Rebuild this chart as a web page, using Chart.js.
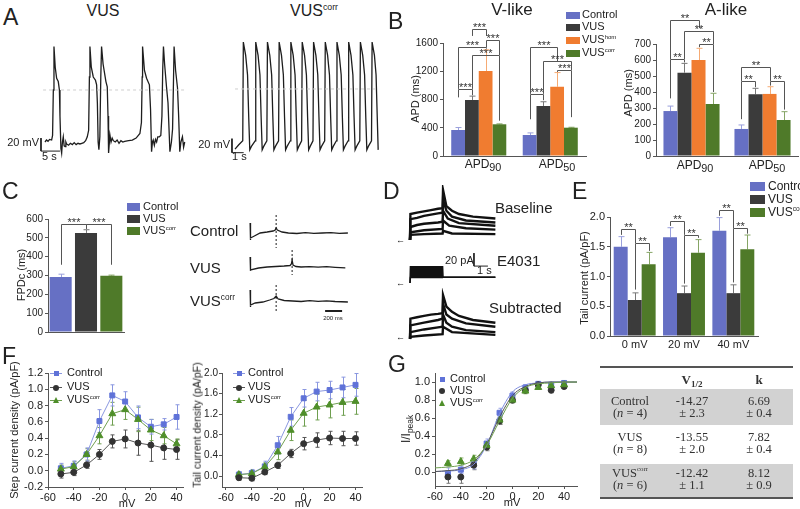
<!DOCTYPE html>
<html lang="en">
<head>
<meta charset="UTF-8">
<title>VUS figure - Chart.js</title>
<script src="https://cdn.jsdelivr.net/npm/chart.js"></script>
<style>
  body { margin: 0; background: #fff; }
  #fig { position: relative; width: 800px; height: 509px; overflow: hidden; font-family: "Liberation Sans", Arial, sans-serif; color: #222; }
  #fig canvas { position: absolute; }
  .t { position: absolute; white-space: nowrap; line-height: 1.2; }
  .sup { font-size: 0.55em; position: relative; top: -0.75em; }
  .sub { font-size: 0.7em; position: relative; top: 0.35em; }
  .dsub { font-size: 0.9em; position: relative; top: 0.3em; }
</style>
</head>
<body>
<div id="fig"></div>
<script>
// ---------- data ----------
// A: membrane potential traces [s, mV]
const vusTrace = [[0,-80],[0.4,-77],[0.8,-79],[1.2,-76],[1.75,-77],[2.0,-70],[2.2,0],[2.37,67],[2.7,35],[3.07,18],[3.5,13],[3.8,0],[3.95,-40],[4.2,-90],[4.39,-97],[4.6,-80],[4.82,-72],[5.05,-86],[5.3,-87],[5.5,-80],[5.7,-83],[6.2,-85],[6.7,-82],[7.2,-84],[7.7,-81],[8.2,-84],[8.7,-82],[9.2,-83],[9.7,-82],[10.2,-81],[10.7,-78],[11.14,-72],[11.5,-62],[11.7,20],[11.84,67],[12.2,35],[12.72,20],[13.3,15],[13.6,8],[13.8,-20],[14.0,-80],[14.2,-92],[14.45,-72],[14.7,20],[14.9,67],[15.3,40],[16.05,13],[16.4,5],[16.6,-40],[16.75,-97],[17.1,-69],[17.4,-80],[17.7,-74],[18.0,-78],[18.5,-80],[19,-77],[19.5,-82],[20,-78],[20.5,-80],[21,-79],[22,-78],[23,-77],[24,-74],[25.0,-67],[25.4,-50],[25.6,20],[25.7,67],[26.2,30],[26.75,18],[27.5,8],[27.8,-30],[28.07,-95],[28.3,-80],[28.5,-77],[28.8,-85],[29.1,-76],[29.4,-80],[29.7,-72],[30.1,-72],[30.5,-70],[30.8,-40],[31.0,30],[31.2,67],[31.5,40],[32.0,5],[32.4,-20],[32.9,-95],[33.3,-80],[33.6,-60],[33.8,0],[34.0,67],[34.4,30],[34.9,3],[35.2,-40],[35.5,-95],[35.8,-80],[36.2,-72],[36.5,-88],[36.8,-80]];
const corrTrace = [[0,-86],[0.3,-80],[0.66,-74],[0.71,67],[0.91,48],[1.07,20],[1.17,-40],[1.26,-87],[1.4,-82],
  [1.72,-74],[1.77,67],[1.97,48],[2.13,20],[2.23,-40],[2.32,-87],[2.45,-82],
  [2.72,-74],[2.77,67],[2.97,48],[3.13,20],[3.23,-40],[3.32,-87],[3.45,-82],
  [3.72,-74],[3.77,67],[3.97,48],[4.13,20],[4.23,-40],[4.32,-87],[4.45,-82],
  [4.72,-74],[4.77,67],[4.97,48],[5.13,20],[5.23,-40],[5.32,-87],[5.45,-82],
  [5.69,-74],[5.74,67],[5.94,48],[6.1,20],[6.2,-40],[6.29,-87],[6.42,-82],
  [6.66,-74],[6.71,67],[6.91,48],[7.07,20],[7.17,-40],[7.26,-87],[7.39,-82],
  [7.66,-74],[7.71,67],[7.91,48],[8.07,20],[8.17,-40],[8.26,-87],[8.39,-82],
  [8.66,-74],[8.71,67],[8.91,48],[9.07,20],[9.17,-40],[9.26,-87],[9.39,-82],
  [9.66,-74],[9.71,67],[9.91,48],[10.07,20],[10.17,-40],[10.26,-87],[10.39,-82],
  [10.66,-74],[10.71,67],[10.91,48],[11.07,20],[11.17,-40],[11.26,-87],[11.39,-82],
  [11.66,-74],[11.71,67],[11.91,48],[12.05,20],[12.15,-40],[12.23,-87]];

// B: APD (ms)
const apdGroups = ['APD90', 'APD50'];
const vControl = [368, 297], vVUS = [793, 708], vHom = [1204, 981], vCorr = [449, 401];
const vControlErr = [35, 30], vVUSErr = [55, 60], vHomErr = [300, 200], vCorrErr = [6, 6];
const aControl = [281, 169], aVUS = [521, 386], aHom = [600, 388], aCorr = [325, 225];
const aControlErr = [31, 25], aVUSErr = [58, 37], aHomErr = [73, 45], aCorrErr = [67, 52];
const vTicks = [0, 200, 400, 600, 800, 1000, 1200, 1400, 1600];
const aTicks = [0, 100, 200, 300, 400, 500, 600, 700];

// C: FPDc (ms)
const fpdGroups = ['Control', 'VUS', 'VUScorr'];
const fpdValues = [292, 526, 299];
const fpdErr = [15, 17, 3];
const fpdTicks = [0, 100, 200, 300, 400, 500, 600];
const fpControl = [[0,10],[1,-7],[8,-5],[50,-3],[118,0],[200,1],[270,2],[295,3],[306,5],[320,3],[376,1],[450,0],[550,-0.5],[650,0.3],[750,-0.3],[850,0],[950,0.3],[1050,-0.3],[1150,0]];
const fpVUS = [[0,10],[1,-4],[8,-3],[100,-1],[200,0],[300,0.5],[400,1],[470,1.5],[485,3],[494,7],[505,2],[540,0.5],[600,0],[700,0.4],[800,-0.2],[900,0.3],[1000,-0.3],[1120,-0.8]];
const fpCorr = [[0,11],[1,-6],[8,-4],[60,-2],[150,-1],[230,1],[280,2.5],[306,5],[330,2],[400,0.5],[500,0],[600,-0.5],[700,0.3],[800,-0.3],[900,0.2],[1000,-0.5],[1150,-1]];

// D: current traces [s, pA]
const baseTraces = [
  [[0,0],[0.03,40],[0.5,42],[1,44],[1.5,46],[2,48],[2.33,49],[2.36,77],[2.6,52],[3,45],[3.5,40],[4.5,36],[6.1,33]],
  [[0,0],[0.03,32],[0.5,34],[1,37],[1.5,39],[2,41],[2.33,42],[2.36,62],[2.6,45],[3,36],[4,30],[6.1,27]],
  [[0,0],[0.03,20],[0.5,23],[1,25],[2,27],[2.33,28],[2.36,45],[2.7,33],[3.5,26],[6.1,22]],
  [[0,0],[0.03,12],[1,15],[2.33,17],[2.36,30],[2.8,22],[4,18],[6.1,16]],
  [[0,0],[0.03,8],[1,9],[2.33,10],[2.36,14],[3,10],[6.1,9]]
];
const e4031Top = [[0,0],[0.03,25],[1,25],[2,25],[2.33,25],[2.36,9],[6.1,9]];
const e4031Bottom = [[0,0],[0.03,8.5],[1,8.5],[2,8.5],[2.33,8.5],[2.36,9],[6.1,9]];
const subTraces = [
  [[0,0],[0.03,30],[0.5,32],[1,34],[1.5,36],[2,37],[2.33,38],[2.36,65],[2.6,48],[3,40],[3.5,34],[4.5,28],[6.1,24]],
  [[0,0],[0.03,20],[1,24],[2,28],[2.33,30],[2.36,52],[2.6,36],[3,30],[4,23],[6.1,18]],
  [[0,0],[0.03,10],[1,14],[2,17],[2.33,18],[2.36,36],[2.6,24],[3,18],[4,13],[6.1,10]],
  [[0,0],[0.03,3],[1,5],[2.33,7],[2.36,18],[3,10],[6.1,6]]
];

// E: tail current (pA/pF)
const tailGroups = ['0 mV', '20 mV', '40 mV'];
const tControl = [1.50, 1.66, 1.77], tVUS = [0.605, 0.72, 0.72], tCorr = [1.205, 1.40, 1.457];
const tControlErr = [0.17, 0.16, 0.22], tVUSErr = [0.12, 0.12, 0.14], tCorrErr = [0.2, 0.22, 0.24];
const tTicks = [0, 0.5, 1.0, 1.5, 2.0];

// F: current density vs voltage
const mvF = [-50, -40, -30, -20, -10, 0, 10, 20, 30, 40];
const stepControl = [0.03, 0.06, 0.20, 0.61, 0.925, 0.85, 0.655, 0.54, 0.57, 0.66];
const stepVUS = [-0.04, -0.02, 0.07, 0.20, 0.36, 0.39, 0.34, 0.315, 0.28, 0.26];
const stepCorr = [0.02, 0.05, 0.20, 0.43, 0.70, 0.75, 0.63, 0.50, 0.43, 0.33];
const stepControlErr = [0.06, 0.06, 0.08, 0.14, 0.13, 0.12, 0.14, 0.09, 0.07, 0.15];
const stepVUSErr = [0.05, 0.04, 0.04, 0.06, 0.08, 0.11, 0.15, 0.2, 0.14, 0.12];
const stepCorrErr = [0.05, 0.06, 0.07, 0.10, 0.14, 0.12, 0.15, 0.13, 0.10, 0.06];
const tailControl = [0.03, 0.06, 0.19, 0.60, 1.15, 1.51, 1.64, 1.67, 1.72, 1.77];
const tailVUS = [-0.03, -0.04, 0.08, 0.21, 0.44, 0.63, 0.70, 0.74, 0.73, 0.73];
const tailCorr = [0.03, 0.05, 0.18, 0.47, 0.89, 1.22, 1.34, 1.38, 1.43, 1.45];
const tailControlErr = [0.06, 0.07, 0.1, 0.17, 0.18, 0.17, 0.18, 0.17, 0.2, 0.22];
const tailVUSErr = [0.05, 0.05, 0.05, 0.06, 0.08, 0.12, 0.14, 0.13, 0.14, 0.13];
const tailCorrErr = [0.05, 0.06, 0.08, 0.15, 0.2, 0.25, 0.25, 0.25, 0.25, 0.25];
const mvTicks = [-60, -40, -20, 0, 20, 40];
const stepTicks = [-0.2, 0, 0.2, 0.4, 0.6, 0.8, 1.0, 1.2];
const tailDensTicks = [0, 0.4, 0.8, 1.2, 1.6, 2.0];

// G: activation
const actControl = [-0.01, 0.03, 0.09, 0.32, 0.66, 0.85, 0.94, 0.98, 0.97, 0.99];
const actVUS = [-0.05, -0.05, 0.08, 0.28, 0.57, 0.80, 0.91, 0.97, 0.91, 0.95];
const actCorr = [0.10, 0.12, 0.15, 0.30, 0.58, 0.80, 0.90, 0.94, 0.96, 0.97];
const actControlErr = [0.06, 0.04, 0.05, 0.05, 0.05, 0.04, 0.03, 0.02, 0.02, 0.02];
const actVUSErr = [0.07, 0.07, 0.05, 0.04, 0.04, 0.03, 0.03, 0.02, 0.03, 0.02];
const actCorrErr = [0.03, 0.04, 0.04, 0.04, 0.04, 0.03, 0.03, 0.02, 0.02, 0.02];
const fitV = [-60, -50, -40, -30, -20, -10, 0, 10, 20, 30, 40, 50];
const fitControl = [0.01, 0.015, 0.03, 0.09, 0.30, 0.65, 0.89, 0.97, 0.99, 1.0, 1.0, 1.0];
const fitVUS = [0.01, 0.02, 0.04, 0.11, 0.31, 0.61, 0.85, 0.95, 0.99, 1.0, 1.0, 1.0];
const fitCorr = [0.05, 0.06, 0.08, 0.14, 0.30, 0.57, 0.82, 0.94, 0.98, 0.99, 1.0, 1.0];
const actTicks = [0, 0.2, 0.4, 0.6, 0.8, 1.0];

// table
const tableRows = [
  ['Control', '(<i>n</i> = 4)', '-14.27', '\u00b1 2.3', '6.69', '\u00b1 0.4'],
  ['VUS', '(<i>n</i> = 8)', '-13.55', '\u00b1 2.0', '7.82', '\u00b1 0.4'],
  ['VUS<span class="sup">corr</span>', '(<i>n</i> = 6)', '-12.42', '\u00b1 1.1', '8.12', '\u00b1 0.9']
];

// ---------- style ----------
const FONT = '"Liberation Sans", Arial, sans-serif';
Chart.defaults.font.family = FONT;
Chart.defaults.color = '#222';
const AX = '#555';
const C_CTRL = '#6670c4', C_VUS = '#3b3b3b', C_HOM = '#f07c30', C_CORR = '#4f7a29';
const E_CTRL = '#9aa0dc', E_VUS = '#777', E_HOM = '#f6ab74', E_CORR = '#86a566';
const L_CTRL = '#5f72d8', L_VUS = '#333', L_CORR = '#4f8f2a';

const fig = document.getElementById('fig');

// error bars drawn from dataset.errors through the y scale
Chart.register({
  id: 'errorBars',
  beforeDatasetsDraw(chart) {
    const ctx = chart.ctx, ys = chart.scales.y;
    chart.data.datasets.forEach((ds, i) => {
      if (!ds.errors) return;
      chart.getDatasetMeta(i).data.forEach((el, j) => {
        const raw = ds.data[j], v = typeof raw === 'number' ? raw : raw.y, e = ds.errors[j];
        const col = Array.isArray(ds.errColor) ? ds.errColor[j] : ds.errColor;
        const top = ys.getPixelForValue(v + e);
        const bot = ys.getPixelForValue(ds.errUp ? v : v - e);
        const x = Math.round(el.x) + 0.5, cap = ds.cap || 3;
        ctx.save();
        ctx.strokeStyle = col; ctx.lineWidth = 1;
        ctx.beginPath();
        ctx.moveTo(x, bot); ctx.lineTo(x, top);
        ctx.moveTo(x - cap, top); ctx.lineTo(x + cap, top);
        if (!ds.errUp) { ctx.moveTo(x - cap, bot); ctx.lineTo(x + cap, bot); }
        ctx.stroke();
        ctx.restore();
      });
    });
  }
});

// significance brackets between bars
Chart.register({
  id: 'brackets',
  afterDatasetsDraw(chart, args, opts) {
    if (!opts || !opts.items) return;
    const ctx = chart.ctx, ys = chart.scales.y;
    ctx.save();
    ctx.strokeStyle = '#555'; ctx.fillStyle = '#333'; ctx.lineWidth = 1;
    ctx.font = (opts.size || 11) + 'px ' + FONT;
    ctx.textAlign = 'center'; ctx.textBaseline = 'alphabetic';
    opts.items.forEach(b => {
      const xa = Math.round(chart.getDatasetMeta(b.a[0]).data[b.a[1]].x) + 0.5;
      const xb = Math.round(chart.getDatasetMeta(b.b[0]).data[b.b[1]].x) + 0.5;
      const yt = Math.round(ys.getPixelForValue(b.y)) + 0.5;
      ctx.beginPath();
      ctx.moveTo(xa, ys.getPixelForValue(b.ea)); ctx.lineTo(xa, yt);
      ctx.lineTo(xb, yt); ctx.lineTo(xb, ys.getPixelForValue(b.eb));
      ctx.stroke();
      ctx.fillText(b.t, (xa + xb) / 2, yt + 1.5);
    });
    ctx.restore();
  }
});

// ---------- helpers ----------
function canvas(left, top, w, h) {
  const c = document.createElement('canvas');
  c.width = w; c.height = h;
  c.style.left = left + 'px'; c.style.top = top + 'px';
  c.style.width = w + 'px'; c.style.height = h + 'px';
  fig.appendChild(c);
  return c;
}
function txt(html, x, cy, size, align, extra) {
  const d = document.createElement('div');
  d.className = 't';
  d.innerHTML = html;
  d.style.fontSize = size + 'px';
  d.style.top = (cy - size * 0.6) + 'px';
  if (align === 'center') { d.style.left = x + 'px'; d.style.transform = 'translateX(-50%)'; }
  else if (align === 'right') { d.style.right = (800 - x) + 'px'; }
  else { d.style.left = x + 'px'; }
  if (extra) d.style.cssText += extra;
  fig.appendChild(d);
  return d;
}
function vtxt(html, cx, cy, size) {
  const d = document.createElement('div');
  d.className = 't';
  d.innerHTML = html;
  d.style.fontSize = size + 'px';
  d.style.left = cx + 'px'; d.style.top = cy + 'px';
  d.style.transform = 'translate(-50%,-50%) rotate(-90deg)';
  fig.appendChild(d);
}
function rect(x, y, w, h, color) {
  const d = document.createElement('div');
  d.style.cssText = `position:absolute;left:${x}px;top:${y}px;width:${w}px;height:${h}px;background:${color}`;
  fig.appendChild(d);
}
function marker(cx, cy, shape, color) {
  const d = document.createElement('div');
  if (shape === 'triangle') {
    d.style.cssText = `position:absolute;left:${cx - 3.5}px;top:${cy - 3.5}px;width:0;height:0;border-left:3.5px solid transparent;border-right:3.5px solid transparent;border-bottom:6px solid ${color}`;
  } else {
    const s = shape === 'circle' ? 6 : 5;
    d.style.cssText = `position:absolute;left:${cx - s / 2}px;top:${cy - s / 2}px;width:${s}px;height:${s}px;background:${color};border-radius:${shape === 'circle' ? '50%' : '0'}`;
  }
  fig.appendChild(d);
}
const pts = arr => arr.map(p => ({ x: p[0], y: p[1] }));
const xy = (xs, ys) => xs.map((x, i) => ({ x, y: ys[i] }));

function baseOpts(pad, scales, plugins) {
  return {
    animation: false, responsive: false, devicePixelRatio: 1, events: [],
    layout: { padding: pad }, scales,
    plugins: Object.assign({ legend: { display: false }, tooltip: { enabled: false } }, plugins || {})
  };
}
function yLin(min, max, ticks, digits, size, width, pad) {
  return {
    type: 'linear', min, max,
    afterFit: s => { s.width = width; },
    afterBuildTicks: s => { s.ticks = ticks.map(v => ({ value: v })); },
    border: { display: true, color: AX, width: 1 },
    grid: { drawOnChartArea: false, drawTicks: true, tickLength: 3, color: AX },
    ticks: { font: { size }, padding: pad === undefined ? 2 : pad, color: '#222', callback: v => v.toFixed(digits) }
  };
}
function xLin(min, max, ticks, size, height) {
  return {
    type: 'linear', min, max,
    afterFit: s => { s.height = height; },
    afterBuildTicks: s => { s.ticks = ticks.map(v => ({ value: v })); },
    border: { display: true, color: AX, width: 1 },
    grid: { drawOnChartArea: false, drawTicks: true, tickLength: 3, color: AX },
    ticks: { font: { size }, padding: 1, color: '#222', maxRotation: 0 }
  };
}
function xCat(size, height, pad, show) {
  return {
    type: 'category',
    afterFit: s => { s.height = height; },
    border: { display: true, color: AX, width: 1 },
    grid: { display: false, drawTicks: false, tickLength: 0 },
    ticks: { display: show !== false, font: { size }, padding: pad, color: '#222', maxRotation: 0 }
  };
}
function barDs(values, errs, color, errColor, cp) {
  return { data: values, errors: errs, errUp: true, errColor, cap: 3, backgroundColor: color,
    borderWidth: 0, barPercentage: 1, categoryPercentage: cp };
}
function traceChart(left, top, w, h, xr, yr, sets) {
  return new Chart(canvas(left, top, w, h), {
    type: 'line',
    data: {
      datasets: sets.map(s => ({
        data: pts(s.pts), pointRadius: 0, borderColor: s.color || '#1e1e1e', borderWidth: s.w || 1.3,
        borderDash: s.dash || [], fill: s.fill || false, backgroundColor: s.bg || 'transparent', tension: 0
      }))
    },
    options: baseOpts(0, {
      x: { type: 'linear', display: false, min: xr[0], max: xr[1] },
      y: { type: 'linear', display: false, min: yr[0], max: yr[1] }
    })
  });
}
function lineDs(xs, ys, errs, color, lineColor, style, radius, showLine) {
  return { data: xy(xs, ys), errors: errs, errColor: lineColor, cap: 2, borderColor: lineColor,
    backgroundColor: color, pointBackgroundColor: color, pointBorderColor: color, pointStyle: style,
    pointRadius: radius, borderWidth: 1, showLine: showLine, tension: 0 };
}
// category label under a bar group, with the digits as subscript
function apdLabel(label, x, cy) {
  txt(label.slice(0, 3) + '<span class="dsub">' + label.slice(3) + '</span>', x, cy, 12, 'center');
}

// ---------- A ----------
traceChart(37, 35, 150, 130, [-2.1, 37.4], [-115.4, 84.6], [
  { pts: [[-0.5, 0], [37.4, 0]], color: '#cfcfcf', w: 1, dash: [3, 3] },
  { pts: vusTrace },
  { pts: [[-1.05, -74], [-1.05, -94], [3.95, -94]], w: 1 }
]);
traceChart(228, 35, 151, 130, [-0.6, 12.3], [-108.6, 77.1], [
  { pts: [[0, 0], [12.2, 0]], color: '#cfcfcf', w: 1, dash: [3, 3] },
  { pts: corrTrace },
  { pts: [[-0.26, -71], [-0.26, -91], [0.74, -91]], w: 1 }
]);

// ---------- B ----------
new Chart(canvas(400, 0, 190, 175), {
  type: 'bar',
  data: { labels: apdGroups, datasets: [
    barDs(vControl, vControlErr, C_CTRL, E_CTRL, 0.77),
    barDs(vVUS, vVUSErr, C_VUS, E_VUS, 0.77),
    barDs(vHom, vHomErr, C_HOM, E_HOM, 0.77),
    barDs(vCorr, vCorrErr, C_CORR, E_CORR, 0.77)
  ] },
  options: baseOpts({ top: 43, right: 4, left: 0, bottom: 0 }, {
    x: xCat(12, 19, 2, false),
    y: yLin(0, 1600, vTicks, 0, 10, 43)
  }, { brackets: { items: [
    { a: [0, 0], b: [1, 0], y: 950, ea: 830, eb: 860, t: '***' },
    { a: [0, 0], b: [2, 0], y: 1540, ea: 950, eb: 1520, t: '***' },
    { a: [1, 0], b: [2, 0], y: 1800, ea: 1700, eb: 1700, t: '***' },
    { a: [1, 0], b: [3, 0], y: 1430, ea: 950, eb: 500, t: '***' },
    { a: [2, 0], b: [3, 0], y: 1640, ea: 1540, eb: 1430, t: '***' },
    { a: [0, 1], b: [1, 1], y: 880, ea: 520, eb: 790, t: '***' },
    { a: [0, 1], b: [2, 1], y: 1543, ea: 880, eb: 1345, t: '***' },
    { a: [1, 1], b: [3, 1], y: 1345, ea: 880, eb: 1218, t: '***' },
    { a: [2, 1], b: [3, 1], y: 1218, ea: 1190, eb: 550, t: '***' }
  ] } })
});
new Chart(canvas(610, 0, 190, 175), {
  type: 'bar',
  data: { labels: apdGroups, datasets: [
    barDs(aControl, aControlErr, C_CTRL, E_CTRL, 0.79),
    barDs(aVUS, aVUSErr, C_VUS, E_VUS, 0.79),
    barDs(aHom, aHomErr, C_HOM, E_HOM, 0.79),
    barDs(aCorr, aCorrErr, C_CORR, E_CORR, 0.79)
  ] },
  options: baseOpts({ top: 44, right: 2, left: 0, bottom: 0 }, {
    x: xCat(12, 19, 2, false),
    y: yLin(0, 700, aTicks, 0, 10, 46)
  }, { brackets: { items: [
    { a: [0, 0], b: [1, 0], y: 606, ea: 360, eb: 585, t: '**' },
    { a: [0, 0], b: [2, 0], y: 850, ea: 606, eb: 800, t: '**' },
    { a: [1, 0], b: [3, 0], y: 781, ea: 606, eb: 700, t: '**' },
    { a: [2, 0], b: [3, 0], y: 700, ea: 680, eb: 400, t: '**' },
    { a: [0, 1], b: [2, 1], y: 556, ea: 469, eb: 469, t: '**' },
    { a: [0, 1], b: [1, 1], y: 469, ea: 230, eb: 430, t: '**' },
    { a: [2, 1], b: [3, 1], y: 469, ea: 440, eb: 290, t: '**' }
  ] } })
});
apdLabel(apdGroups[0], 483, 164);
apdLabel(apdGroups[1], 557, 164);
apdLabel(apdGroups[0], 695, 165);
apdLabel(apdGroups[1], 767, 165);

// ---------- C ----------
new Chart(canvas(0, 200, 130, 140), {
  type: 'bar',
  data: { labels: fpdGroups, datasets: [{
    data: fpdValues, errors: fpdErr, errUp: true, cap: 3,
    errColor: [E_CTRL, E_VUS, E_CORR], backgroundColor: [C_CTRL, C_VUS, C_CORR],
    borderWidth: 0, barPercentage: 1, categoryPercentage: 0.87
  }] },
  options: baseOpts({ top: 19, right: 6, left: 0, bottom: 0 }, {
    x: xCat(10, 8, 0, false),
    y: yLin(0, 600, fpdTicks, 0, 10, 48)
  }, { brackets: { items: [
    { a: [0, 0], b: [0, 1], y: 575, ea: 357, eb: 548, t: '***' },
    { a: [0, 1], b: [0, 2], y: 575, ea: 548, eb: 357, t: '***' }
  ] } })
});
traceChart(248, 212, 102, 40, [-25, 1175], [-19, 21], [
  { pts: [[306, 18], [306, -15]], w: 1, dash: [2, 2] },
  { pts: fpControl }
]);
traceChart(248, 246, 102, 36, [-25, 1175], [-15, 21], [
  { pts: [[494, 17], [494, -8]], w: 1, dash: [2, 2] },
  { pts: fpVUS }
]);
traceChart(248, 280, 102, 36, [-25, 1175], [-15, 21], [
  { pts: [[306, 16], [306, -11]], w: 1, dash: [2, 2] },
  { pts: fpCorr },
  { pts: [[882, -10], [1082, -10]], w: 2 }
]);

// ---------- D ----------
traceChart(405, 185, 95, 60, [-0.357, 6.43], [-7.7, 84.6],
  baseTraces.map(p => ({ pts: p, color: '#111', w: 2.4 })));
traceChart(405, 252, 95, 35, [-0.357, 6.43], [-6.2, 47.7], [
  { pts: e4031Top, color: '#111', w: 1.5, fill: '+1', bg: '#111' },
  { pts: e4031Bottom, color: '#111', w: 1.5 },
  { pts: [[4.57, 46], [4.57, 26], [5.57, 26]], color: '#222', w: 1 }
]);
traceChart(405, 288, 95, 54, [-0.357, 6.43], [-4.6, 75.4],
  subTraces.map(p => ({ pts: p, color: '#111', w: 2.4 })));

// ---------- E ----------
new Chart(canvas(560, 190, 200, 160), {
  type: 'bar',
  data: { labels: tailGroups, datasets: [
    barDs(tControl, tControlErr, C_CTRL, E_CTRL, 0.85),
    barDs(tVUS, tVUSErr, C_VUS, E_VUS, 0.85),
    barDs(tCorr, tCorrErr, C_CORR, E_CORR, 0.85)
  ] },
  options: baseOpts({ top: 27, right: 2, left: 0, bottom: 0 }, {
    x: xCat(11, 14, 2),
    y: yLin(0, 2, tTicks, 1, 11, 50)
  }, { brackets: { items: [
    { a: [0, 0], b: [1, 0], y: 1.79, ea: 1.70, eb: 1.56, t: '**' },
    { a: [1, 0], b: [2, 0], y: 1.56, ea: 0.78, eb: 1.43, t: '**' },
    { a: [0, 1], b: [1, 1], y: 1.94, ea: 1.85, eb: 1.70, t: '**' },
    { a: [1, 1], b: [2, 1], y: 1.70, ea: 0.88, eb: 1.65, t: '**' },
    { a: [0, 2], b: [1, 2], y: 2.11, ea: 2.02, eb: 1.81, t: '**' },
    { a: [1, 2], b: [2, 2], y: 1.81, ea: 0.90, eb: 1.72, t: '**' }
  ] } })
});

// ---------- F ----------
new Chart(canvas(0, 360, 190, 149), {
  type: 'line',
  data: { datasets: [
    lineDs(mvF, stepVUS, stepVUSErr, L_VUS, '#555', 'circle', 3, true),
    lineDs(mvF, stepCorr, stepCorrErr, L_CORR, '#6f9f50', 'triangle', 4, true),
    lineDs(mvF, stepControl, stepControlErr, L_CTRL, '#8a97e0', 'rect', 3.5, true)
  ] },
  options: baseOpts({ top: 13, right: 7, left: 0, bottom: 0 }, {
    x: xLin(-60, 45, mvTicks, 11, 22),
    y: yLin(-0.2, 1.2, stepTicks, 1, 11, 48)
  })
});
new Chart(canvas(180, 360, 190, 149), {
  type: 'line',
  data: { datasets: [
    lineDs(mvF, tailVUS, tailVUSErr, L_VUS, '#555', 'circle', 3, true),
    lineDs(mvF, tailCorr, tailCorrErr, L_CORR, '#6f9f50', 'triangle', 4, true),
    lineDs(mvF, tailControl, tailControlErr, L_CTRL, '#8a97e0', 'rect', 3.5, true)
  ] },
  options: baseOpts({ top: 13, right: 8, left: 0, bottom: 0 }, {
    x: xLin(-63, 45, mvTicks, 11, 22),
    y: yLin(-0.21, 2.0, tailDensTicks, 1, 10, 42, 1)
  })
});

// ---------- G ----------
const fitDs = (ys, color) => ({ data: xy(fitV, ys), borderColor: color, borderWidth: 1, pointRadius: 0,
  cubicInterpolationMode: 'monotone', fill: false });
new Chart(canvas(400, 360, 185, 149), {
  type: 'line',
  data: { datasets: [
    fitDs(fitCorr, '#6f9f50'),
    fitDs(fitVUS, '#555'),
    fitDs(fitControl, '#7d8ce0'),
    lineDs(mvF, actCorr, actCorrErr, L_CORR, '#8db070', 'triangle', 4, false),
    lineDs(mvF, actVUS, actVUSErr, L_VUS, '#777', 'circle', 3, false),
    lineDs(mvF, actControl, actControlErr, L_CTRL, '#9aa5e6', 'rect', 3.5, false)
  ] },
  options: baseOpts({ top: 13, right: 8, left: 0, bottom: 0 }, {
    x: xLin(-60, 50, mvTicks, 11, 23),
    y: yLin(-0.15, 1.1, actTicks, 1, 11, 35)
  })
});

// ---------- text ----------
const S = '<span class="sup">', E = '</span>';
[['A', 3, 18], ['B', 388, 22], ['C', 2, 192], ['D', 383, 192], ['E', 572, 192], ['F', 2, 357], ['G', 388, 365]]
  .forEach(l => txt(l[0], l[1], l[2], 23));

// A
txt('VUS', 103, 11, 16, 'center');
txt('VUS' + S + 'corr' + E, 314, 11, 16, 'center');
txt('20 mV', 39, 143, 11, 'right');
txt('5 s', 42, 157, 11);
txt('20 mV', 230, 145, 11, 'right');
txt('1 s', 232, 157, 11);

// B
txt('V-like', 512, 10, 17, 'center');
txt('A-like', 726, 10, 17, 'center');
vtxt('APD (ms)', 416, 99, 11);
vtxt('APD (ms)', 629, 93, 11);
[[C_CTRL, 'Control', 15], [C_VUS, 'VUS', 27], [C_HOM, 'VUS' + S + 'hom' + E, 40], [C_CORR, 'VUS' + S + 'corr' + E, 53]]
  .forEach(r => { rect(566, r[2] - 3.5, 14, 7, r[0]); txt(r[1], 582, r[2], 11); });

// C
vtxt('FPDc (ms)', 22, 275, 11);
[[C_CTRL, 'Control', 207], [C_VUS, 'VUS', 219], [C_CORR, 'VUS' + S + 'corr' + E, 231]]
  .forEach(r => { rect(127, r[2] - 4, 13, 8, r[0]); txt(r[1], 143, r[2], 11); });
txt('Control', 190, 231, 15);
txt('VUS', 190, 268, 15);
txt('VUS' + S + 'corr' + E, 190, 301, 15);
txt('200 ms', 333, 319, 6, 'center');

// D
txt('Baseline', 495, 208, 15);
txt('E4031', 497, 261, 15);
txt('Subtracted', 489, 308, 15);
txt('20 pA', 445, 261, 11);
txt('1 s', 477, 271, 11);
[240, 283, 337].forEach(y => txt('\u2190', 396, y, 9));

// E
vtxt('Tail current (pA/pF)', 585, 278, 11);
[[C_CTRL, 'Control', 186], [C_VUS, 'VUS', 199], [C_CORR, 'VUS' + S + 'corr' + E, 212]]
  .forEach(r => { rect(750, r[2] - 4.5, 15, 9, r[0]); txt(r[1], 768, r[2], 12); });

// F
vtxt('Step current density (pA/pF)', 15, 430, 11);
vtxt('Tail current density (pA/pF)', 197, 425, 10.5);
txt('mV', 127, 504, 11, 'center');
txt('mV', 303, 504, 11, 'center');
[[50, 67], [233, 248]].forEach(p => {
  [[L_CTRL, '#8a97e0', 'rect', 'Control', 373], [L_VUS, '#555', 'circle', 'VUS', 387], [L_CORR, '#6f9f50', 'triangle', 'VUS' + S + 'corr' + E, 400]]
    .forEach(r => { rect(p[0], r[4], 12, 1, r[1]); marker(p[0] + 6, r[4] + 0.5, r[2], r[0]); txt(r[3], p[1], r[4], 11); });
});

// G
vtxt('I/I<span class="sub">peak</span>', 406, 429, 12);
txt('mV', 512, 503, 11, 'center');
[[L_CTRL, 'rect', 'Control', 379], [L_VUS, 'circle', 'VUS', 391], [L_CORR, 'triangle', 'VUS' + S + 'corr' + E, 403]]
  .forEach(r => { marker(442, r[3], r[1], r[0]); txt(r[2], 450, r[3], 11); });

// table
const SERIF = 'font-family:"Liberation Serif","Times New Roman",serif;color:#333';
rect(600, 366, 193, 2, '#555');
rect(600, 389, 193, 36, '#d2d2d2');
rect(600, 464, 193, 33, '#d2d2d2');
rect(600, 497, 193, 2, '#555');
txt('<b>V<span class="sub">1/2</span></b>', 692, 380, 13, 'center', SERIF);
txt('<b>k</b>', 759, 380, 13, 'center', SERIF);
const rowY = [[401, 413], [437, 449], [473, 485]];
tableRows.forEach((r, i) => {
  [630, 692, 759].forEach((x, c) => {
    txt(r[c * 2], x, rowY[i][0], 12.5, 'center', SERIF);
    txt(r[c * 2 + 1], x, rowY[i][1], 12.5, 'center', SERIF);
  });
});
</script>
</body>
</html>
